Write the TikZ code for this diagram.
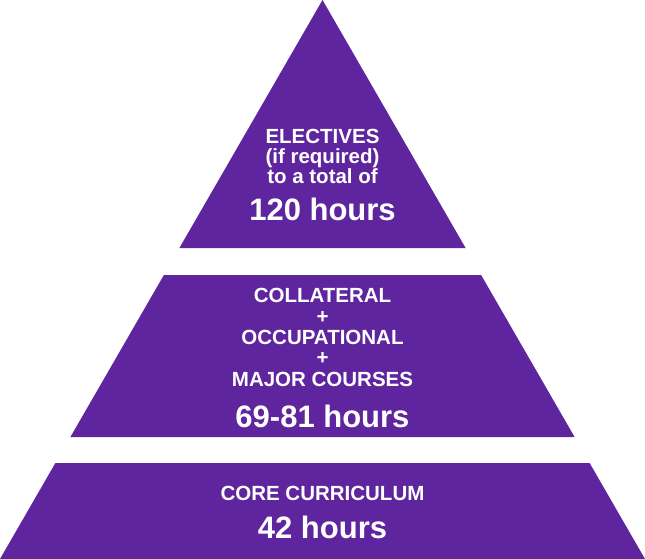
\documentclass[tikz,border=0pt]{standalone}
\usepackage{fontspec}
\setmainfont{Liberation Sans}
\definecolor{tierpurple}{RGB}{94,37,158}
\tikzset{
  tier/.style={fill=tierpurple},
  small/.style={text=white,font=\fontsize{20.5}{24}\selectfont\bfseries,anchor=base,inner sep=0pt},
  hours/.style={text=white,font=\fontsize{31}{36}\selectfont\bfseries,anchor=base,inner sep=0pt}
}
\begin{document}
\begin{tikzpicture}[x=1pt,y=-1pt]
\useasboundingbox (0,0) rectangle (645,559);
% three tiers of one triangle
\fill[tier](322.5,0)--(465.6,248)--(179.4,248)--cycle;
\fill[tier](163.9,275)--(481.1,275)--(574.6,437)--(70.4,437)--cycle;
\fill[tier](55.4,463)--(589.6,463)--(645,559)--(0,559)--cycle;

% top tier
\node[small] (elect) at (322.5,143) {ELECTIVES};
\node[small] (ifreq) at (322.5,163.5) {(if required)};
\node[small] (total) at (322.5,183.5) {to a total of};
\node[hours] (hrsA) at (322.5,220.5) {120 hours};

% middle tier
\node[small] (coll) at (322.5,302.7) {COLLATERAL};
\node[small] (plusA) at (322.5,323.2) {+};
\node[small] (occ) at (322.5,344.7) {OCCUPATIONAL};
\node[small] (plusB) at (322.5,364.2) {+};
\node[small] (major) at (322.5,386.2) {MAJOR COURSES};
\node[hours] (hrsB) at (322.5,427) {69-81 hours};

% bottom tier
\node[small] (core) at (322.5,500) {CORE CURRICULUM};
\node[hours] (hrsC) at (322.5,538) {42 hours};
\end{tikzpicture}
\end{document}
